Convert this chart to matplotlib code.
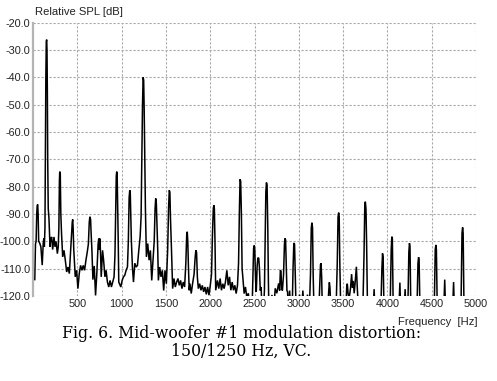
import matplotlib
matplotlib.use('Agg')
import matplotlib.pyplot as plt
import numpy as np

# ---------------------------------------------------------------------------
# spectrum: (frequency [Hz], relative SPL [dB])
# values below -120 dB are clipped by the axes
# ---------------------------------------------------------------------------
low_band = [
    (20, -114), (28, -101), (35, -100), (42, -90), (47, -87), (53, -86.5),
    (58, -90), (64, -100), (74, -100.5), (89, -102), (104, -108.7), (115, -101),
    (122, -99), (128, -102), (135, -95), (140, -70), (145, -40), (150, -27),
    (154, -26.2), (158, -30), (162, -45), (166, -70), (172, -88), (180, -91.5),
    (192, -102), (200, -99), (211, -98.4), (222, -103), (237, -98.4), (248, -102),
    (260, -100), (275, -104.5), (285, -102), (292, -95), (298, -78), (302, -74.5),
    (308, -75.5), (314, -90), (322, -97), (335, -105.7), (350, -103.3), (365, -107),
    (380, -111.2), (395, -109.4), (410, -111.8), (425, -103), (435, -97), (443, -93),
    (448, -92), (453, -95), (460, -103), (477, -113), (492, -110.6), (507, -117.3),
    (522, -111.8), (537, -108.8), (552, -110.6), (567, -108.8), (582, -110.6),
    (597, -107), (612, -104), (625, -101), (635, -93), (642, -91), (650, -92),
    (656, -97), (665, -103.3), (676, -114), (691, -109), (706, -119.8), (720, -112),
    (735, -101), (742, -99), (750, -103), (755, -99), (763, -105), (770, -113),
    (785, -103.3), (797, -107), (812, -113), (825, -110.6), (840, -114.9),
    (855, -116.7), (870, -114.3), (885, -116.7), (900, -114.9), (915, -113),
    (925, -105), (933, -90), (940, -76), (945, -74.5), (950, -76), (956, -88),
    (962, -100), (968, -114.9), (991, -116.7),
]

mid_band = [
    (1006, -114.3), (1021, -113), (1036, -112.4), (1051, -110.6), (1066, -109.4),
    (1076, -100), (1085, -84), (1092, -81.3), (1098, -82.5), (1104, -92),
    (1110, -99.6), (1122, -109.4), (1134, -114.9), (1149, -108), (1164, -109.4),
    (1179, -108.8), (1194, -103.3), (1209, -98.4), (1220, -91), (1228, -70),
    (1236, -50), (1243, -40), (1249, -41), (1255, -52), (1262, -72), (1269, -88.6),
    (1280, -105.7), (1295, -100.8), (1310, -106.9), (1325, -103.3), (1340, -114.3),
    (1355, -106.9), (1368, -100), (1378, -88), (1385, -84.3), (1392, -86),
    (1400, -95), (1408, -103.3), (1415, -114.3), (1430, -109.4), (1445, -113),
    (1460, -110.6), (1475, -118), (1490, -110.6), (1505, -115.5), (1520, -103),
    (1530, -88), (1538, -81.3), (1545, -82), (1552, -92), (1561, -100.8),
    (1576, -117.3), (1591, -113.6), (1606, -116.7), (1621, -114.9), (1636, -113.6),
    (1651, -116.1), (1666, -114.3), (1681, -117.3), (1696, -114.9), (1711, -116.7),
    (1725, -108), (1735, -97.5), (1741, -96.5), (1747, -100), (1755, -110),
    (1763, -117.9), (1771, -115.5), (1786, -119.1), (1801, -115.5), (1818, -112),
    (1830, -106), (1838, -103.3), (1846, -104), (1855, -113), (1866, -117.3),
    (1881, -115.5), (1896, -117.9), (1911, -116.1), (1926, -118.5), (1941, -116.7),
    (1956, -119.4), (1971, -116.7), (1986, -119.7), (2001, -116.1), (2015, -112),
    (2025, -98), (2035, -88), (2041, -86.8), (2047, -88), (2054, -100),
    (2062, -117.9), (2082, -114.3), (2097, -117.3), (2112, -113.6), (2127, -117.9),
    (2142, -115.5), (2157, -117.3), (2172, -114.9), (2188, -110.6), (2203, -116.1),
    (2218, -113), (2233, -117.9), (2248, -114.9), (2263, -117.9), (2278, -116.1),
    (2293, -119.1), (2308, -116.1), (2320, -108), (2330, -88), (2337, -77.3),
    (2344, -78), (2352, -90), (2360, -110), (2368, -113), (2383, -119.1),
    (2398, -116.7), (2413, -120.5), (2430, -119),
]

high_band = [
    (2455, -126), (2472, -126), (2482, -112), (2490, -102.5), (2497, -101.5),
    (2503, -103), (2512, -114), (2520, -118.5), (2530, -109), (2538, -106),
    (2548, -106.2), (2556, -110), (2565, -118), (2575, -116.7), (2585, -126),
    (2600, -126), (2612, -118), (2620, -100), (2628, -82), (2635, -78.5),
    (2642, -79.5), (2650, -95), (2657, -115), (2663, -126), (2680, -126),
    (2697, -119.6), (2715, -126), (2734, -117.2), (2752, -119), (2772, -115.4),
    (2784, -118), (2792, -110.5), (2799, -111), (2806, -117), (2815, -118),
    (2828, -112), (2838, -101), (2845, -98.9), (2851, -99.5), (2858, -108),
    (2866, -118), (2873, -118.5), (2884, -126), (2896, -118), (2910, -126),
    (2925, -126), (2935, -110), (2944, -100.6), (2952, -101), (2960, -112),
    (2970, -126), (2990, -126), (3008, -119.5), (3030, -126), (3046, -118),
    (3060, -126), (3080, -126), (3098, -119.5), (3118, -126), (3132, -112),
    (3141, -95), (3148, -93.2), (3155, -95), (3162, -112), (3172, -126),
    (3225, -126), (3238, -115), (3245, -108.5), (3251, -108), (3258, -113),
    (3266, -126), (3325, -126), (3338, -118), (3345, -115), (3352, -117),
    (3362, -126), (3420, -126), (3434, -108), (3443, -91), (3450, -89.5),
    (3456, -91), (3463, -108), (3474, -126), (3530, -126), (3542, -115.6),
    (3548, -115.7), (3556, -119), (3568, -121), (3584, -117), (3596, -112),
    (3606, -117), (3615, -114.5), (3625, -119), (3636, -115), (3650, -109.3),
    (3660, -117), (3675, -126), (3690, -121), (3700, -126), (3722, -126),
    (3736, -105), (3745, -86.5), (3751, -85.5), (3758, -88), (3765, -100),
    (3776, -126), (3838, -126), (3850, -117.5), (3860, -126), (3925, -126),
    (3938, -110), (3945, -104.4), (3952, -106), (3962, -126), (4030, -126),
    (4043, -103), (4050, -98.3), (4056, -99), (4066, -126), (4128, -126),
    (4141, -115.1), (4150, -126), (4188, -126), (4200, -117.5), (4210, -126),
    (4230, -126), (4242, -104), (4249, -100.7), (4255, -102), (4265, -126),
    (4333, -126), (4345, -108), (4352, -105.8), (4358, -107), (4368, -126),
    (4528, -126), (4540, -103), (4547, -101.3), (4553, -103), (4563, -126),
    (4635, -126), (4647, -114), (4657, -126), (4735, -126), (4747, -114.9),
    (4757, -126), (4830, -126), (4842, -97), (4849, -94.9), (4855, -97),
    (4865, -126), (4880, -126),
]

x_ticks = [500, 1000, 1500, 2000, 2500, 3000, 3500, 4000, 4500, 5000]
y_ticks = [-120, -110, -100, -90, -80, -70, -60, -50, -40, -30, -20]
y_tick_labels = ['-120.0', '-110.0', '-100.0', '-90.0', '-80.0', '-70.0',
                 '-60.0', '-50.0', '-40.0', '-30.0', '-20.0']

caption = 'Fig. 6. Mid-woofer #1 modulation distortion:\n150/1250 Hz, VC.'

spectrum = np.array(low_band + mid_band + high_band)
freq = spectrum[:, 0]
level = spectrum[:, 1]

# ---------------------------------------------------------------------------
W, H = 497, 381
fig = plt.figure(figsize=(W / 100, H / 100), dpi=100)
ax = fig.add_axes([33 / W, 1 - 296 / H, (476 - 33) / W, (296 - 22.7) / H])

ax.plot(freq, level, color='black', linewidth=1.1, solid_joinstyle='miter')

ax.set_xlim(0, 5000)
ax.set_ylim(-120, -20)
ax.set_xticks(x_ticks)
ax.set_xticklabels([str(t) for t in x_ticks])
ax.set_yticks(y_ticks)
ax.set_yticklabels(y_tick_labels)
ax.tick_params(length=0, labelsize=7.8, labelcolor='#222222',
               labelfontfamily='Liberation Sans')
ax.tick_params(axis='y', pad=2.0)
ax.tick_params(axis='x', pad=2.5)

ax.grid(True, color='#a8a8a8', linewidth=0.8, linestyle=(0, (2.0, 1.6)))
ax.set_axisbelow(True)
for side in ['top', 'right', 'bottom']:
    ax.spines[side].set_visible(False)
ax.spines['left'].set_color('#b4b4b4')
ax.spines['left'].set_linewidth(1.6)

fig.text(35 / W, 1 - 12 / H, 'Relative SPL [dB]', ha='left', va='center',
         fontsize=8.1, color='#222222', family='Liberation Sans')
fig.text(477 / W, 1 - 322 / H, 'Frequency  [Hz]', ha='right', va='center',
         fontsize=8.1, color='#222222', family='Liberation Sans')

fig.text(241.5 / W, 1 - 342.5 / H, caption, ha='center', va='center',
         fontsize=11.3, family='DejaVu Serif', linespacing=1.03)

fig.savefig('out.png', dpi=100)
